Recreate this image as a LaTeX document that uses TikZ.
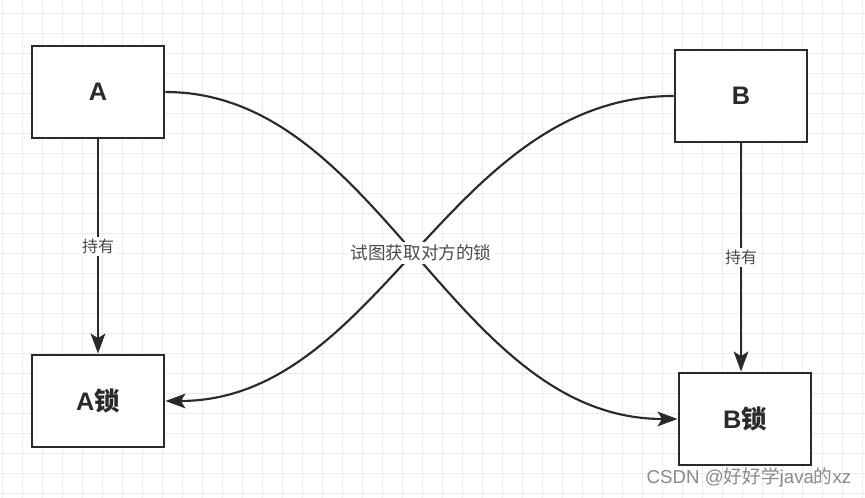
\documentclass[tikz,border=0pt]{standalone}
\usepackage{fontspec}
\setmainfont{Liberation Sans}
\newfontfamily\cjk{Noto Sans CJK SC}
\usetikzlibrary{arrows.meta}
\definecolor{gridc}{HTML}{EBEBEB}
\definecolor{linec}{HTML}{2A2A2A}
\definecolor{wmc}{HTML}{8A8A8A}
\begin{document}
\begin{tikzpicture}[x=0.75pt,y=-0.75pt,
  box/.style={draw=linec,line width=2.2pt,fill=white,minimum width=99pt,minimum height=69pt,inner sep=0pt,font=\fontsize{19}{22}\selectfont\bfseries,text=linec},
  conn/.style={draw=linec,line width=1.6pt,-{Stealth[length=15pt,width=11pt,inset=3.5pt]}},
  lbl/.style={fill=white,inner sep=1.5pt,font=\fontsize{12}{14}\selectfont\cjk,text=linec!85}]
\useasboundingbox (0,0) rectangle (865,498);
\fill[white] (0,0) rectangle (865,498);
\foreach \x in {2,22,...,862} \draw[gridc,line width=0.6pt] (\x,0) -- (\x,498);
\foreach \y in {13,33,...,493} \draw[gridc,line width=0.6pt] (0,\y) -- (865,\y);
\node[box] (A) at (98,92) {A};
\node[box] (AL) at (98,401) {A{\cjk 锁}};
\node[box] (B) at (741,96) {B};
\node[box] (BL) at (745,419) {B{\cjk 锁}};
\draw[conn] (A.south) -- node[lbl,pos=0.5] (l1) {持有} (AL.north);
\draw[conn] (B.south) -- node[lbl,pos=0.5] (l2) {持有} (B.south |- BL.north);
\draw[conn] (A.east) .. controls +(215,0) and +(-225,0) .. (BL.west);
\draw[conn] (B.west) .. controls +(-225,0) and +(215,0) .. (AL.east);
\node[lbl,inner sep=2pt,font=\fontsize{13.2}{15}\selectfont\cjk] (mid) at (421,253) {试图获取对方的锁};
\node[font=\fontsize{14}{16}\selectfont,text=wmc,anchor=west] (wm) at (642,478) {CSDN @{\cjk 好好学}java{\cjk 的}xz};
\end{tikzpicture}
\end{document}
